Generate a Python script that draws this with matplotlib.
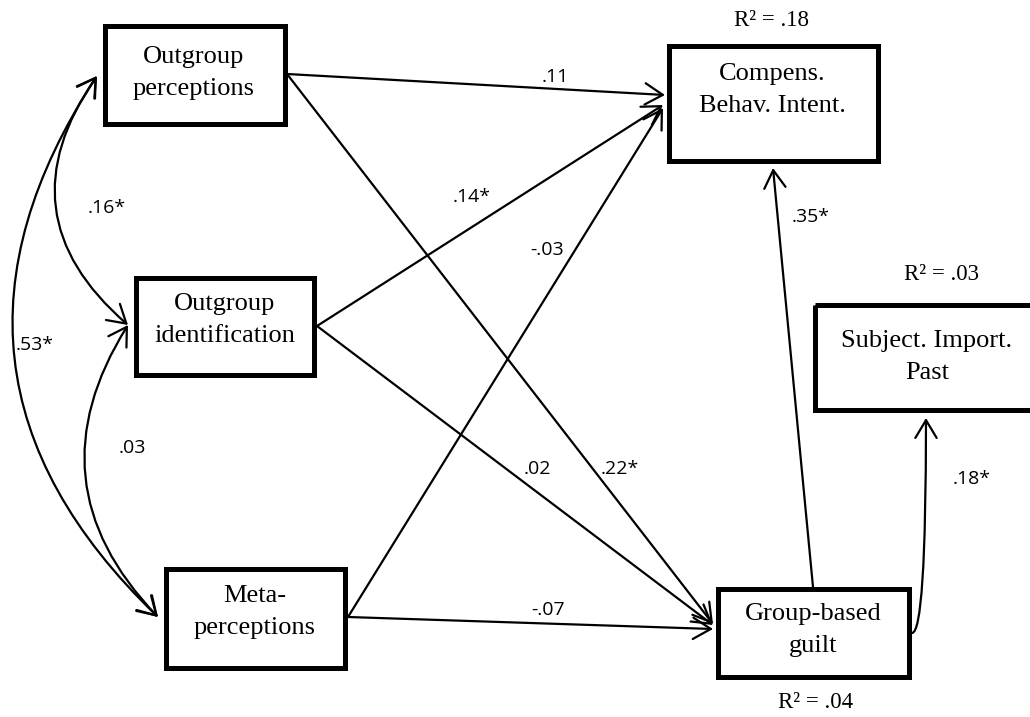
import matplotlib.pyplot as plt
from matplotlib.patches import Rectangle, FancyArrowPatch

# variables in the path model and their boxes (x0, y0, x1, y1), pixel layout
node_keys = ["op", "oi", "mp", "cb", "si", "gg"]
node_labels = [
    "Outgroup\nperceptions",
    "Outgroup\nidentification",
    "Meta-\nperceptions",
    "Compens.\nBehav. Intent.",
    "Subject. Import.\nPast",
    "Group-based\nguilt",
]
node_boxes = [
    (104.5, 25.5, 284.5, 123.5),
    (135.5, 277.5, 313.5, 374.5),
    (165.5, 568.5, 344.5, 667.5),
    (668.5, 45.5, 877.5, 160.5),
    (814.5, 304.5, 1045.0, 409.5),
    (717.5, 588.5, 908.5, 676.5),
]
node_text_at = [(194, 73), (225, 320), (255, 612), (772, 90), (927, 357), (813, 630)]

# explained variance for the endogenous variables
r2_nodes = ["cb", "si", "gg"]
r2_values = [".18", ".03", ".04"]
r2_text_at = [(771, 21), (942, 275), (816, 703)]

# directed paths: source anchor -> target anchor, standardized coefficient
path_src = ["op", "op", "oi", "oi", "mp", "mp", "gg", "gg"]
path_dst = ["cb", "gg", "cb", "gg", "cb", "gg", "cb", "si"]
path_coef = [".11", ".22*", ".14*", ".02", "-.03", "-.07", ".35*", ".18*"]
path_start = [(287, 74), (287, 74), (317, 326), (317, 326), (348, 617), (348, 617), (813, 587), (912, 633)]
path_end = [(665, 95), (713, 624), (663, 105), (713, 625), (663, 108), (713, 629), (773, 168), (926, 418)]
path_label_at = [(555, 77), (620, 469), (472, 197), (537, 469), (547, 250), (548, 610), (811, 217), (972, 479)]

# correlations among the exogenous variables
corr_pairs = [("op", "oi"), ("op", "mp"), ("oi", "mp")]
corr_coef = [".16*", ".53*", ".03"]
corr_start = [(97, 76), (97, 76), (128, 325)]
corr_end = [(128, 325), (158, 617), (158, 617)]
corr_rad = [0.45, 0.415, 0.39]
corr_label_at = [(107, 208), (35, 345), (132, 448)]

SERIF = "Liberation Serif"
SANS = "Open Sans"
HEAD = "head_length=0.4,head_width=0.24"

fig = plt.figure(figsize=(10.3, 7.17), dpi=100)
ax = fig.add_axes([0, 0, 1, 1])
ax.set_xlim(0, 1030)
ax.set_ylim(717, 0)
ax.axis("off")

for (x0, y0, x1, y1), label, (tx, ty) in zip(node_boxes, node_labels, node_text_at):
    ax.add_patch(Rectangle((x0, y0), x1 - x0, y1 - y0, fill=False,
                           edgecolor="black", linewidth=3.6, zorder=3))
    ax.text(tx, ty, label, family=SERIF, fontsize=19, ha="center", va="center",
            linespacing=1.6, zorder=4)

for value, (tx, ty) in zip(r2_values, r2_text_at):
    ax.text(tx, ty, f"R\u00b2 = {value}", family=SERIF, fontsize=16.5,
            ha="center", va="center")

for i, coef in enumerate(path_coef):
    style = "arc3,rad=0"
    if path_dst[i] == "si":
        style = "angle3,angleA=0,angleB=90"
    arrow = FancyArrowPatch(path_start[i], path_end[i], arrowstyle="->," + HEAD,
                            mutation_scale=32, linewidth=1.6, color="black",
                            shrinkA=0, shrinkB=0, connectionstyle=style, zorder=2)
    ax.add_patch(arrow)
    tx, ty = path_label_at[i]
    ax.text(tx, ty, coef, family=SANS, fontsize=14, ha="center", va="center")

for i, coef in enumerate(corr_coef):
    arrow = FancyArrowPatch(corr_start[i], corr_end[i], arrowstyle="<->," + HEAD,
                            mutation_scale=32, linewidth=1.6, color="black",
                            shrinkA=0, shrinkB=0,
                            connectionstyle=f"arc3,rad={corr_rad[i]}", zorder=2)
    ax.add_patch(arrow)
    tx, ty = corr_label_at[i]
    ax.text(tx, ty, coef, family=SANS, fontsize=14, ha="center", va="center")

fig.savefig("out.png", dpi=100)
plt.close(fig)
